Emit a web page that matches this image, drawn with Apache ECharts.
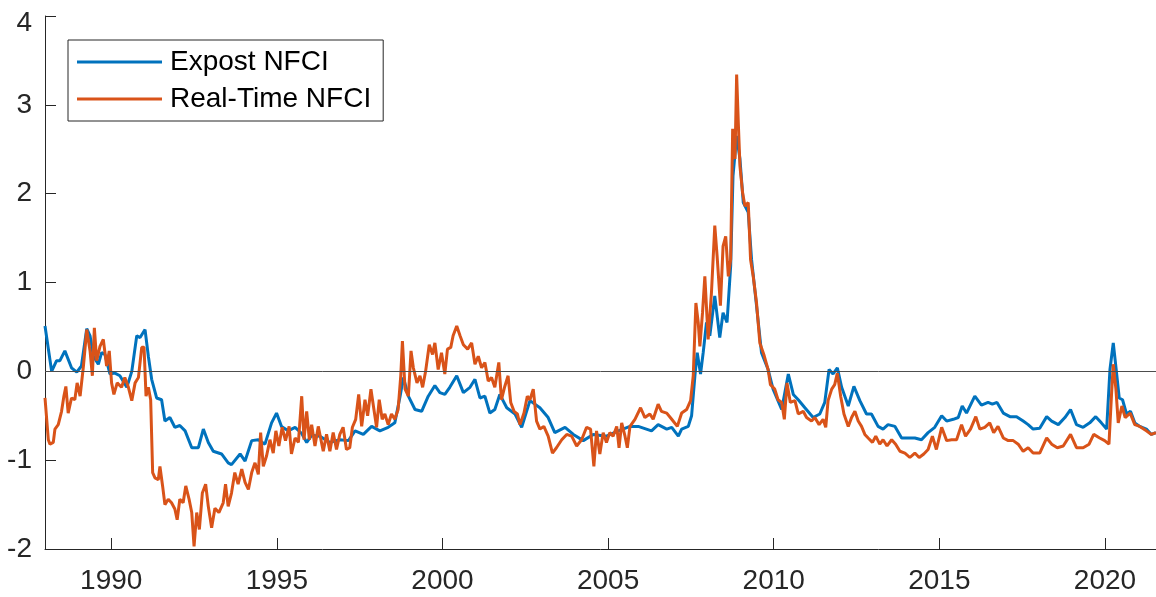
<!DOCTYPE html>
<html>
<head>
<meta charset="utf-8">
<script src="https://cdn.jsdelivr.net/npm/echarts@6/dist/echarts.min.js"></script>
<style>
  html, body { margin: 0; padding: 0; background: #fff; }
  #chart { width: 1156px; height: 597px; }
</style>
</head>
<body>
<div id="chart"></div>
<script>
// values (year as decimal, index level)
const expostYears = [
  1988.00, 1988.20, 1988.35, 1988.45, 1988.60, 1988.80, 1988.96, 1989.10, 1989.26, 1989.36,
  1989.46, 1989.61, 1989.71, 1989.81, 1989.96, 1990.11, 1990.26, 1990.47, 1990.62, 1990.77,
  1990.87, 1991.02, 1991.12, 1991.22, 1991.37, 1991.52, 1991.62, 1991.77, 1991.92, 1992.07,
  1992.23, 1992.43, 1992.63, 1992.78, 1992.93, 1993.08, 1993.33, 1993.53, 1993.63, 1993.89,
  1994.04, 1994.24, 1994.44, 1994.64, 1994.84, 1994.99, 1995.14, 1995.34, 1995.55, 1995.75,
  1995.90, 1996.05, 1996.30, 1996.60, 1996.90, 1997.16, 1997.36, 1997.61, 1997.86, 1998.11,
  1998.36, 1998.56, 1998.72, 1998.82, 1998.97, 1999.17, 1999.37, 1999.57, 1999.77, 1999.92,
  2000.07, 2000.22, 2000.43, 2000.63, 2000.83, 2000.98, 2001.13, 2001.28, 2001.43, 2001.58,
  2001.73, 2001.94, 2002.19, 2002.39, 2002.64, 2002.94, 2003.19, 2003.39, 2003.70, 2003.95,
  2004.25, 2004.55, 2004.95, 2005.31, 2005.66, 2005.91, 2006.31, 2006.51, 2006.77, 2006.92,
  2007.12, 2007.22, 2007.42, 2007.52, 2007.62, 2007.69, 2007.79, 2007.87, 2007.97, 2008.07,
  2008.22, 2008.37, 2008.47, 2008.59, 2008.70, 2008.77, 2008.88, 2008.98, 2009.08, 2009.23,
  2009.33, 2009.48, 2009.63, 2009.83, 2009.98, 2010.24, 2010.44, 2010.59, 2010.74, 2010.94,
  2011.19, 2011.39, 2011.54, 2011.67, 2011.79, 2011.92, 2012.05, 2012.25, 2012.42, 2012.60,
  2012.80, 2012.95, 2013.15, 2013.30, 2013.45, 2013.66, 2013.86, 2014.06, 2014.26, 2014.46,
  2014.66, 2014.86, 2015.07, 2015.22, 2015.42, 2015.57, 2015.69, 2015.82, 2016.07, 2016.27,
  2016.47, 2016.60, 2016.74, 2016.93, 2017.13, 2017.33, 2017.53, 2017.68, 2017.83, 2018.03,
  2018.24, 2018.39, 2018.59, 2018.79, 2018.96, 2019.14, 2019.34, 2019.54, 2019.72, 2019.89,
  2020.05, 2020.15, 2020.25, 2020.35, 2020.43, 2020.53, 2020.65, 2020.77, 2020.90, 2021.05,
  2021.25, 2021.40, 2021.54
];
const expostValues = [
  0.51, 0.00, 0.12, 0.12, 0.23, 0.04, -0.01, 0.06, 0.48, 0.40,
  0.17, 0.08, 0.21, 0.19, -0.03, -0.02, -0.05, -0.18, 0.00, 0.40,
  0.38, 0.47, 0.17, -0.09, -0.30, -0.32, -0.56, -0.52, -0.63, -0.61,
  -0.67, -0.86, -0.86, -0.65, -0.80, -0.90, -0.93, -1.03, -1.05, -0.93,
  -1.01, -0.78, -0.77, -0.82, -0.58, -0.47, -0.62, -0.67, -0.63, -0.70,
  -0.80, -0.72, -0.73, -0.80, -0.77, -0.78, -0.67, -0.71, -0.62, -0.67,
  -0.63, -0.58, -0.28, -0.07, -0.28, -0.43, -0.45, -0.28, -0.16, -0.24,
  -0.26, -0.18, -0.05, -0.24, -0.18, -0.09, -0.30, -0.28, -0.47, -0.43,
  -0.26, -0.41, -0.48, -0.63, -0.33, -0.41, -0.52, -0.69, -0.63, -0.71,
  -0.78, -0.71, -0.73, -0.67, -0.62, -0.62, -0.67, -0.60, -0.65, -0.63,
  -0.73, -0.65, -0.62, -0.50, -0.05, 0.21, -0.03, 0.21, 0.55, 0.40,
  0.85, 0.38, 0.66, 0.55, 1.19, 2.20, 2.65, 2.39, 1.90, 1.79,
  1.26, 0.74, 0.21, 0.02, -0.20, -0.43, -0.03, -0.26, -0.32, -0.41,
  -0.52, -0.48, -0.35, 0.02, -0.03, 0.04, -0.18, -0.39, -0.17, -0.33,
  -0.48, -0.48, -0.62, -0.65, -0.60, -0.62, -0.75, -0.75, -0.75, -0.77,
  -0.69, -0.63, -0.50, -0.56, -0.54, -0.52, -0.39, -0.47, -0.28, -0.38,
  -0.35, -0.37, -0.35, -0.47, -0.51, -0.51, -0.56, -0.60, -0.65, -0.64,
  -0.51, -0.56, -0.60, -0.52, -0.43, -0.60, -0.63, -0.58, -0.51, -0.58,
  -0.65, 0.02, 0.32, -0.02, -0.30, -0.32, -0.48, -0.45, -0.58, -0.62,
  -0.65, -0.71, -0.69
];

const realYears = [
  1988.00, 1988.10, 1988.15, 1988.25, 1988.30, 1988.40, 1988.50, 1988.57, 1988.63, 1988.70,
  1988.80, 1988.90, 1988.97, 1989.06, 1989.16, 1989.26, 1989.36, 1989.43, 1989.49, 1989.56,
  1989.66, 1989.76, 1989.86, 1989.94, 1990.01, 1990.08, 1990.18, 1990.31, 1990.41, 1990.51,
  1990.62, 1990.72, 1990.82, 1990.92, 1990.99, 1991.05, 1991.12, 1991.19, 1991.25, 1991.32,
  1991.42, 1991.47, 1991.55, 1991.62, 1991.72, 1991.82, 1991.92, 1991.99, 1992.07, 1992.17,
  1992.25, 1992.35, 1992.43, 1992.50, 1992.58, 1992.66, 1992.75, 1992.85, 1992.93, 1993.03,
  1993.13, 1993.25, 1993.38, 1993.45, 1993.53, 1993.63, 1993.73, 1993.83, 1993.94, 1994.04,
  1994.14, 1994.24, 1994.34, 1994.44, 1994.51, 1994.59, 1994.69, 1994.79, 1994.89, 1994.97,
  1995.06, 1995.16, 1995.26, 1995.37, 1995.44, 1995.55, 1995.65, 1995.75, 1995.82, 1995.90,
  1995.98, 1996.05, 1996.15, 1996.25, 1996.40, 1996.50, 1996.60, 1996.70, 1996.80, 1996.90,
  1997.00, 1997.10, 1997.20, 1997.28, 1997.38, 1997.47, 1997.56, 1997.66, 1997.74, 1997.84,
  1997.93, 1998.01, 1998.09, 1998.18, 1998.26, 1998.36, 1998.46, 1998.56, 1998.66, 1998.74,
  1998.79, 1998.87, 1998.97, 1999.05, 1999.12, 1999.23, 1999.32, 1999.40, 1999.49, 1999.60,
  1999.70, 1999.77, 1999.87, 1999.97, 2000.07, 2000.15, 2000.25, 2000.32, 2000.43, 2000.53,
  2000.63, 2000.76, 2000.88, 2000.98, 2001.08, 2001.18, 2001.28, 2001.38, 2001.48, 2001.58,
  2001.70, 2001.78, 2001.88, 2001.98, 2002.06, 2002.16, 2002.26, 2002.34, 2002.46, 2002.56,
  2002.64, 2002.74, 2002.84, 2002.94, 2003.06, 2003.19, 2003.32, 2003.44, 2003.60, 2003.75,
  2003.90, 2004.05, 2004.20, 2004.35, 2004.47, 2004.57, 2004.65, 2004.75, 2004.85, 2004.95,
  2005.05, 2005.15, 2005.26, 2005.33, 2005.41, 2005.51, 2005.58, 2005.66, 2005.81, 2005.98,
  2006.11, 2006.26, 2006.36, 2006.51, 2006.61, 2006.77, 2006.92, 2007.09, 2007.22, 2007.37,
  2007.49, 2007.57, 2007.65, 2007.72, 2007.77, 2007.85, 2007.92, 2008.02, 2008.12, 2008.22,
  2008.29, 2008.39, 2008.47, 2008.55, 2008.63, 2008.70, 2008.76, 2008.83, 2008.88, 2008.93,
  2008.98, 2009.06, 2009.13, 2009.23, 2009.30, 2009.38, 2009.48, 2009.58, 2009.70, 2009.83,
  2009.90, 2010.03, 2010.13, 2010.24, 2010.32, 2010.40, 2010.50, 2010.64, 2010.74, 2010.89,
  2010.99, 2011.14, 2011.24, 2011.37, 2011.49, 2011.57, 2011.64, 2011.75, 2011.84, 2011.92,
  2012.02, 2012.12, 2012.25, 2012.35, 2012.45, 2012.55, 2012.65, 2012.75, 2012.85, 2012.98,
  2013.08, 2013.20, 2013.30, 2013.42, 2013.56, 2013.68, 2013.81, 2013.96, 2014.11, 2014.26,
  2014.39, 2014.53, 2014.66, 2014.79, 2014.91, 2015.07, 2015.22, 2015.37, 2015.52, 2015.67,
  2015.79, 2015.94, 2016.10, 2016.22, 2016.37, 2016.52, 2016.64, 2016.77, 2016.93, 2017.08,
  2017.23, 2017.38, 2017.53, 2017.68, 2017.83, 2018.03, 2018.24, 2018.39, 2018.56, 2018.74,
  2018.96, 2019.14, 2019.34, 2019.52, 2019.66, 2019.84, 2019.99, 2020.12, 2020.20, 2020.25,
  2020.33, 2020.40, 2020.51, 2020.61, 2020.76, 2020.90, 2021.05, 2021.25, 2021.40, 2021.54
];
const realValues = [
  -0.30, -0.77, -0.82, -0.80, -0.65, -0.60, -0.45, -0.28, -0.17, -0.47,
  -0.30, -0.32, -0.13, -0.28, 0.06, 0.47, 0.23, -0.05, 0.49, 0.12,
  0.28, 0.36, 0.06, 0.23, -0.13, -0.26, -0.13, -0.18, -0.07, -0.17,
  -0.33, -0.13, -0.07, 0.27, 0.27, -0.28, -0.18, -0.32, -1.14, -1.20,
  -1.22, -1.07, -1.29, -1.50, -1.44, -1.48, -1.55, -1.67, -1.44, -1.48,
  -1.29, -1.44, -1.59, -1.97, -1.59, -1.78, -1.37, -1.27, -1.52, -1.76,
  -1.54, -1.59, -1.48, -1.27, -1.52, -1.37, -1.14, -1.27, -1.10, -1.25,
  -1.33, -1.14, -1.03, -1.16, -0.69, -1.07, -0.95, -0.77, -0.92, -0.67,
  -0.84, -0.63, -0.78, -0.62, -0.93, -0.75, -0.80, -0.28, -0.77, -0.45,
  -0.77, -0.60, -0.84, -0.62, -0.90, -0.71, -0.90, -0.69, -0.88, -0.71,
  -0.63, -0.88, -0.86, -0.63, -0.54, -0.26, -0.62, -0.32, -0.50, -0.20,
  -0.43, -0.63, -0.32, -0.54, -0.48, -0.60, -0.48, -0.54, -0.43, -0.05,
  0.34, -0.20, -0.28, 0.23, 0.04, -0.13, -0.05, -0.18, 0.00, 0.30,
  0.19, 0.32, 0.02, 0.21, -0.03, 0.25, 0.27, 0.40, 0.51, 0.40,
  0.30, 0.25, 0.32, 0.08, 0.17, 0.04, 0.10, -0.11, -0.07, -0.18,
  0.10, -0.32, -0.17, -0.05, -0.35, -0.45, -0.48, -0.60, -0.47, -0.28,
  -0.32, -0.20, -0.56, -0.65, -0.62, -0.73, -0.92, -0.86, -0.77, -0.71,
  -0.73, -0.84, -0.77, -0.63, -0.65, -1.07, -0.67, -0.93, -0.69, -0.80,
  -0.69, -0.73, -0.62, -0.86, -0.58, -0.73, -0.86, -0.62, -0.54, -0.41,
  -0.52, -0.48, -0.54, -0.37, -0.45, -0.47, -0.54, -0.62, -0.47, -0.43,
  -0.33, -0.05, 0.77, 0.55, 0.28, 0.66, 1.07, 0.36, 0.89, 1.64,
  1.30, 0.74, 1.41, 1.52, 1.07, 1.26, 2.73, 2.39, 3.34, 2.80,
  2.31, 2.01, 1.86, 1.90, 1.26, 1.07, 0.77, 0.32, 0.19, 0.02,
  -0.15, -0.20, -0.32, -0.35, -0.54, -0.13, -0.35, -0.33, -0.48, -0.45,
  -0.52, -0.56, -0.52, -0.60, -0.54, -0.63, -0.33, -0.20, -0.15, -0.02,
  -0.28, -0.48, -0.62, -0.52, -0.45, -0.56, -0.62, -0.71, -0.75, -0.80,
  -0.73, -0.82, -0.77, -0.84, -0.77, -0.82, -0.90, -0.92, -0.97, -0.92,
  -0.97, -0.93, -0.88, -0.73, -0.88, -0.63, -0.78, -0.77, -0.77, -0.60,
  -0.73, -0.65, -0.51, -0.65, -0.63, -0.58, -0.69, -0.62, -0.75, -0.78,
  -0.78, -0.82, -0.90, -0.86, -0.92, -0.92, -0.75, -0.82, -0.86, -0.84,
  -0.71, -0.86, -0.86, -0.82, -0.71, -0.75, -0.78, -0.82, -0.24, 0.08,
  -0.20, -0.58, -0.39, -0.52, -0.47, -0.60, -0.62, -0.67, -0.71, -0.69
];

const xTicks = [1990, 1995, 2000, 2005, 2010, 2015, 2020];
const seriesNames = ['Expost NFCI', 'Real-Time NFCI'];

const zip = (xs, ys) => xs.map((x, i) => [x, ys[i]]);

const axisColor = '#262626';
const font = "'Liberation Sans', Arial, Helvetica, sans-serif";

let myChart = echarts.init(document.getElementById('chart'), null, {renderer: 'canvas'});

let option = {
    animation: false,
    backgroundColor: '#fff',
    textStyle: {fontFamily: font},
    grid: {left: 45, right: 0, top: 16, bottom: 48, containLabel: false},
    legend: {
        data: seriesNames,
        orient: 'vertical',
        left: 68,
        top: 40,
        padding: [7, 12, 7, 9],
        itemGap: 7,
        itemWidth: 85,
        itemHeight: 3,
        icon: 'rect',
        backgroundColor: '#fff',
        borderColor: axisColor,
        borderWidth: 1,
        borderRadius: 0,
        textStyle: {fontSize: 28, color: '#000', fontFamily: font, lineHeight: 30, padding: [0, 0, 0, 3]}
    },
    xAxis: {
        type: 'value',
        min: 1988,
        max: 2021.54,
        splitLine: {show: false},
        axisLine: {show: true, onZero: false, lineStyle: {color: axisColor, width: 1}},
        axisTick: {show: true, inside: true, length: 11, customValues: xTicks, lineStyle: {color: axisColor}},
        axisLabel: {
            customValues: xTicks,
            margin: 18,
            fontSize: 28,
            color: axisColor,
            fontFamily: font,
            formatter: v => String(v)
        }
    },
    yAxis: {
        type: 'value',
        min: -2,
        max: 4,
        interval: 1,
        splitLine: {show: false},
        axisLine: {show: true, onZero: false, lineStyle: {color: axisColor, width: 1}},
        axisTick: {show: true, inside: true, length: 11, lineStyle: {color: axisColor}},
        axisLabel: {
            margin: 13,
            fontSize: 28,
            color: axisColor,
            fontFamily: font,
            formatter: v => (v === 4 ? '{t|4}' : String(v)),
            rich: {t: {fontSize: 28, color: axisColor, fontFamily: font, padding: [14, 0, 0, 0]}}
        }
    },
    series: [
        {
            name: seriesNames[0],
            type: 'line',
            data: zip(expostYears, expostValues),
            showSymbol: false,
            color: '#0072BD',
            lineStyle: {width: 3, color: '#0072BD'},
            markLine: {
                silent: true,
                symbol: ['none', 'none'],
                label: {show: false},
                lineStyle: {type: 'solid', color: '#4d4d4d', width: 1},
                data: [{yAxis: 0}]
            }
        },
        {
            name: seriesNames[1],
            type: 'line',
            data: zip(realYears, realValues),
            showSymbol: false,
            color: '#D95319',
            lineStyle: {width: 3, color: '#D95319'}
        }
    ]
};

myChart.setOption(option);
</script>
</body>
</html>
